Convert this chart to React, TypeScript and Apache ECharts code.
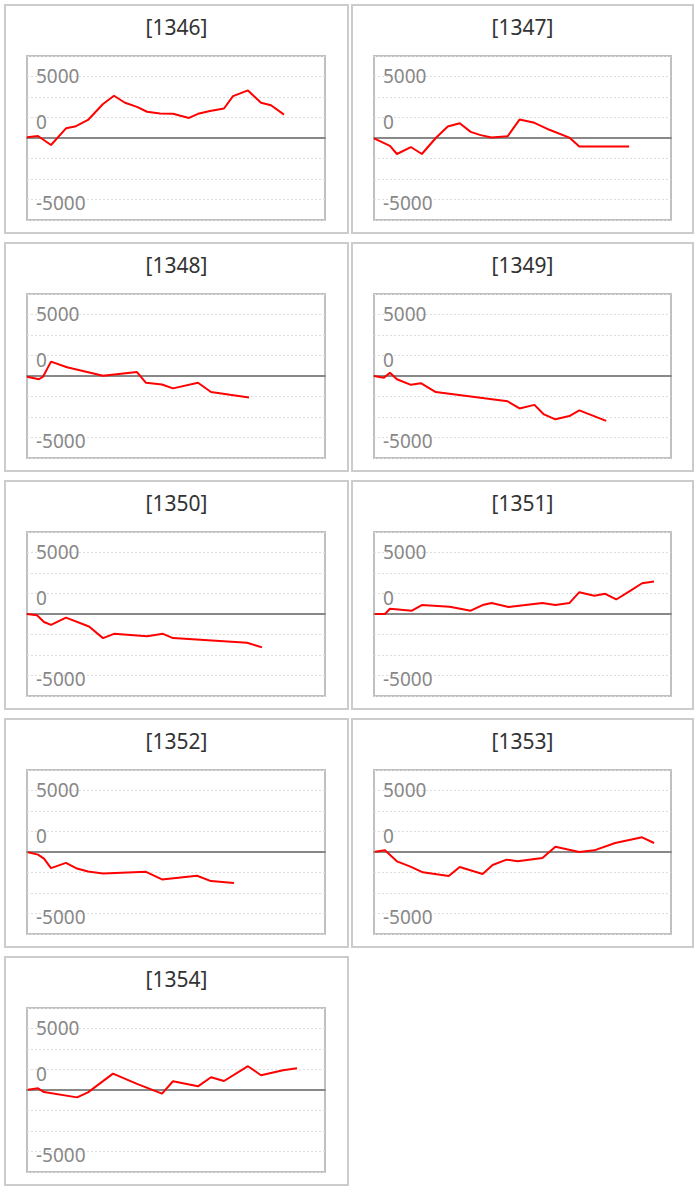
import React, { useEffect, useRef } from "react";
import * as echarts from "echarts";

// Panel ids (titles)
const panelIds = ["1346", "1347", "1348", "1349", "1350", "1351", "1352", "1353", "1354"];

// Y axis
const yMin = -10000;
const yMax = 10000;
const yStep = 2500;
const yLabelValues = [5000, 0, -5000];

// X axis (progress position)
const xMin = 0;
const xMax = 298;

// Series values: [x, y]
const s1346 = [[0, 100], [11, 250], [24, -850], [39, 1180], [48, 1390], [61, 2200], [76, 4150], [87, 5150], [98, 4300], [110, 3800], [120, 3200], [133, 3000], [146, 2950], [162, 2450], [171, 2950], [183, 3300], [197, 3600], [206, 5100], [221, 5800], [234, 4300], [244, 4000], [257, 2850]];
const s1347 = [[0, -50], [16, -950], [23, -1950], [37, -1100], [48, -1950], [62, 0], [74, 1400], [86, 1800], [97, 750], [107, 350], [118, 50], [134, 200], [146, 2250], [161, 1850], [176, 1000], [196, 50], [206, -1050], [256, -1050]];
const s1348 = [[0, -80], [12, -400], [16, -80], [24, 1750], [40, 1070], [58, 560], [76, 40], [110, 480], [119, -830], [135, -1030], [146, -1510], [171, -830], [184, -1950], [203, -2300], [222, -2620]];
const s1349 = [[0, 0], [10, -200], [16, 400], [23, -400], [37, -1080], [47, -880], [62, -1960], [134, -3080], [146, -3960], [161, -3520], [170, -4640], [182, -5280], [196, -4880], [206, -4200], [233, -5480]];
const s1350 = [[0, 0], [10, -160], [17, -970], [24, -1330], [39, -440], [62, -1530], [76, -2940], [87, -2420], [120, -2700], [136, -2420], [146, -2940], [220, -3500], [235, -4070]];
const s1351 = [[1, 0], [11, 0], [16, 645], [38, 400], [48, 1090], [76, 890], [97, 400], [109, 1090], [118, 1330], [135, 850], [169, 1330], [182, 1090], [196, 1330], [206, 2660], [221, 2220], [232, 2460], [243, 1770], [257, 2820], [269, 3750], [281, 3950]];
const s1352 = [[1, -40], [11, -320], [17, -810], [24, -1970], [39, -1330], [50, -2015], [61, -2380], [76, -2620], [119, -2420], [135, -3345], [170, -2900], [184, -3550], [207, -3790]];
const s1353 = [[1, 40], [11, 200], [23, -1140], [36, -1750], [49, -2480], [75, -2920], [86, -1830], [109, -2680], [119, -1580], [133, -930], [144, -1140], [169, -730], [182, 650], [206, 0], [221, 200], [242, 1100], [269, 1790], [281, 1100]];
const s1354 = [[1, 40], [11, 200], [17, -250], [50, -900], [61, -290], [86, 2000], [110, 740], [135, -450], [146, 1070], [171, 450], [184, 1560], [197, 1100], [221, 2900], [234, 1800], [256, 2420], [270, 2660]];

const seriesData = [s1346, s1347, s1348, s1349, s1350, s1351, s1352, s1353, s1354];

const FONT = "'Noto Sans', 'Liberation Sans', sans-serif";

export default function App() {
  const ref = useRef<HTMLDivElement>(null);

  useEffect(() => {
    document.body.style.margin = "0";
    if (!ref.current) return;
    const chart = echarts.init(ref.current, undefined, { renderer: "svg" });

    const grids: any[] = [];
    const xAxes: any[] = [];
    const yAxes: any[] = [];
    const series: any[] = [];
    const graphics: any[] = [];

    const labelStyle = { fontSize: 19, color: "#888", fontFamily: FONT };

    panelIds.forEach((id, i) => {
      const col = i % 2;
      const row = Math.floor(i / 2);
      const panelX = col === 0 ? 5 : 352;
      const panelW = col === 0 ? 343 : 341;
      const panelY = 5 + row * 238;
      const gridLeft = col === 0 ? 27 : 374;
      const gridW = col === 0 ? 298 : 297;
      const gridTop = 56 + row * 238;

      graphics.push({
        type: "rect",
        shape: { x: panelX, y: panelY, width: panelW, height: 228 },
        style: { fill: "none", stroke: "#cccccc", lineWidth: 2 },
        silent: true,
      });
      graphics.push({
        type: "text",
        x: panelX + panelW / 2,
        y: panelY + 22,
        style: {
          text: "[" + id + "]",
          align: "center",
          verticalAlign: "middle",
          fontSize: 21,
          fontFamily: FONT,
          fill: "#333",
        },
        silent: true,
      });

      grids.push({
        left: gridLeft,
        top: gridTop,
        width: gridW,
        height: 164,
        show: true,
        borderColor: "#c0c0c0",
        borderWidth: 2,
        backgroundColor: "transparent",
        containLabel: false,
      });
      xAxes.push({
        type: "value",
        gridIndex: i,
        min: xMin,
        max: xMax,
        axisLine: { show: true, onZero: true, lineStyle: { color: "#888", width: 2 } },
        axisTick: { show: false },
        axisLabel: { show: false },
        splitLine: { show: false },
      });
      yAxes.push({
        type: "value",
        gridIndex: i,
        min: yMin,
        max: yMax,
        interval: yStep,
        axisLine: { show: false },
        axisTick: { show: false },
        splitLine: { show: true, lineStyle: { color: "#dddddd", width: 1, type: [2, 2] } },
        axisLabel: {
          inside: true,
          margin: 9,
          ...labelStyle,
          formatter: (v: number) => {
            if (v === yLabelValues[0]) return "{up|" + v + "}";
            if (v === yLabelValues[1]) return "{zero|" + v + "}";
            if (v === yLabelValues[2]) return "{down|" + v + "}";
            return "";
          },
          rich: {
            up: { ...labelStyle, padding: [0, 0, 43, 0] },
            zero: { ...labelStyle, padding: [0, 0, 33, 0] },
            down: { ...labelStyle, padding: [47, 0, 0, 0] },
          },
        },
      });
      series.push({
        type: "line",
        name: id,
        xAxisIndex: i,
        yAxisIndex: i,
        data: seriesData[i],
        showSymbol: false,
        symbol: "none",
        lineStyle: { color: "#ff0000", width: 2 },
        itemStyle: { color: "#ff0000" },
        z: 3,
      });
    });

    chart.setOption({
      animation: false,
      backgroundColor: "#ffffff",
      textStyle: { fontFamily: FONT },
      grid: grids,
      xAxis: xAxes,
      yAxis: yAxes,
      series,
      graphic: graphics,
    });

    return () => chart.dispose();
  }, []);

  return (
    <div
      ref={ref}
      style={{ position: "absolute", left: 0, top: 0, width: 699, height: 1190 }}
    />
  );
}
